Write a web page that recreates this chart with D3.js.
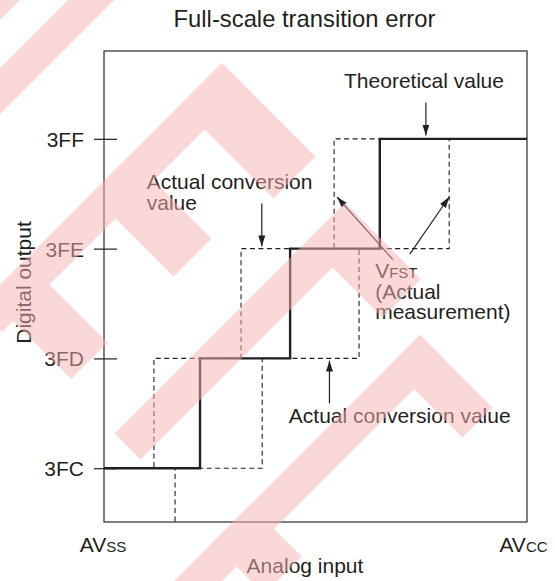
<!DOCTYPE html>
<html>
<head>
<meta charset="utf-8">
<script src="https://cdn.jsdelivr.net/npm/d3@7"></script>
<style>
	body { margin: 0; background: #fff; }
	text { font-family: "Liberation Sans", Arial, Helvetica, sans-serif; fill: #231f20; }
</style>
</head>
<body>
<svg id="chart" width="555" height="581"></svg>
<script>
// digital output codes (0x3FC .. 0x3FF)
var codes = [1020, 1021, 1022, 1023];

// analog input (% of AVss..AVcc) where each step starts, and the code it steps to
var theoX = [0, 22.7, 44.0, 65.2];
var theoCode = [1020, 1021, 1022, 1023];
var earlyX = [0, 11.8, 32.4, 54.4];
var earlyCode = [1020, 1021, 1022, 1023];
var lateX = [0, 16.8, 37.4, 60.3, 81.6];
var lateCode = [1019, 1020, 1021, 1022, 1023];

// annotation arrows, [input %, code]
var arrowFrom = [[76.1, 1023.33], [37.3, 1022.41], [53.3, 1020.59], [68.3, 1021.90], [72.3, 1021.95]];
var arrowTo = [[76.1, 1023.03], [37.3, 1022.02], [53.3, 1020.98], [55.1, 1022.47], [81.6, 1022.47]];

// watermark bars, in (x+y, x-y) screen space: [s0, s1, d0, d1]
var watermark = [
	[-100, 20, -200, 200],
	[68, 114, -200, 200],
	[285, 334, -330, 159],
	[285, 472, 75, 159],
	[285, 450, -103, -27],
	[285, 450, -308, -235],
	[548, 600, -319, 142],
	[548, 700, 65, 142],
	[755, 803, -700, 85],
	[755, 900, 25, 85],
	[755, 858, -330, -255]
];

window.onload = function() {
	var frame = {left: 104, top: 51, right: 527, bottom: 522};

	var svg = d3.select("#chart");

	var x = d3.scaleLinear().domain([0, 100]).range([frame.left, frame.right]);
	var y = d3.scaleLinear().domain([1019.51, 1023.8]).range([frame.bottom, frame.top]);

	// arrow head
	var defs = svg.append("defs");
	defs.append("marker")
		.attr("id", "head")
		.attr("markerUnits", "userSpaceOnUse")
		.attr("markerWidth", 11)
		.attr("markerHeight", 7)
		.attr("refX", 11)
		.attr("refY", 3.5)
		.attr("orient", "auto")
		.append("path")
			.attr("d", "M0,0 L11,3.5 L0,7 z")
			.attr("fill", "#231f20");

	defs.append("clipPath")
		.attr("id", "plot")
		.append("rect")
			.attr("x", frame.left)
			.attr("y", frame.top)
			.attr("width", frame.right - frame.left)
			.attr("height", frame.bottom - frame.top);

	// title
	svg.append("text")
		.attr("x", 304.5)
		.attr("y", 26.7)
		.attr("text-anchor", "middle")
		.style("font-size", "23.8px")
		.text("Full-scale transition error");

	// frame
	svg.append("rect")
		.attr("x", frame.left)
		.attr("y", frame.top)
		.attr("width", frame.right - frame.left)
		.attr("height", frame.bottom - frame.top)
		.attr("fill", "none")
		.attr("stroke", "#3a3a3a")
		.attr("stroke-width", 1.3);

	// y axis ticks crossing the frame
	var axis = svg.append("g")
		.attr("transform", "translate(" + (frame.left + 13) + ",0)")
		.call(d3.axisLeft(y).tickValues(codes).tickFormat(d3.format("X"))
			.tickSizeInner(23).tickSizeOuter(0).tickPadding(10));
	axis.select(".domain").remove();
	axis.selectAll("line").attr("stroke", "#231f20").attr("stroke-width", 1.2);
	axis.selectAll("text")
		.style("font-family", "'Liberation Sans', Arial, sans-serif")
		.style("font-size", "21px")
		.attr("fill", "#231f20")
		.attr("dy", "0.36em");

	// staircases
	function steps(xs, cs) {
		var pts = xs.map(function(d, i) { return [d, cs[i]]; });
		pts.push([100, cs[cs.length - 1]]);
		return pts;
	}
	var line = d3.line()
		.x(function(d) { return x(d[0]); })
		.y(function(d) { return y(d[1]); })
		.curve(d3.curveStepAfter);

	var plot = svg.append("g").attr("clip-path", "url(#plot)");

	plot.selectAll(".actual")
		.data([steps(earlyX, earlyCode), steps(lateX, lateCode)])
		.enter().append("path")
			.attr("class", "actual")
			.attr("d", line)
			.attr("fill", "none")
			.attr("stroke", "#231f20")
			.attr("stroke-width", 1.1)
			.attr("stroke-dasharray", "5,3.5");

	plot.append("path")
		.attr("d", line(steps(theoX, theoCode)))
		.attr("fill", "none")
		.attr("stroke", "#231f20")
		.attr("stroke-width", 2.4);

	// arrows
	svg.selectAll(".arrow")
		.data(arrowFrom)
		.enter().append("line")
			.attr("class", "arrow")
			.attr("x1", function(d) { return x(d[0]); })
			.attr("y1", function(d) { return y(d[1]); })
			.attr("x2", function(d, i) { return x(arrowTo[i][0]); })
			.attr("y2", function(d, i) { return y(arrowTo[i][1]); })
			.attr("stroke", "#231f20")
			.attr("stroke-width", 1.2)
			.attr("marker-end", "url(#head)");

	// labels: one text per label, lines as tspans (each line a list of [text, size])
	function label(px, code, anchor, lines, lead) {
		var t = svg.append("text")
			.attr("x", x(px))
			.attr("y", y(code))
			.attr("text-anchor", anchor)
			.style("font-size", "21px");
		lines.forEach(function(parts, i) {
			parts.forEach(function(p, j) {
				var s = t.append("tspan").style("font-size", p[1] + "px").text(p[0]);
				if (j == 0 && i > 0) s.attr("x", x(px)).attr("dy", lead);
			});
		});
		return t;
	}
	label(75.65, 1023.46, "middle", [[["Theoretical value", 21]]]);
	label(10.1, 1022.54, "start", [[["Actual conversion", 21]], [["value", 21]]], 20.3);
	label(43.7, 1020.41, "start", [[["Actual conversion value", 21]]]);
	label(64.1, 1021.73, "start", [[["V", 21], ["FST", 15]], [["(Actual", 21]], [["measurement)", 21]]], 20.4);

	// axis names
	var avss = svg.append("text").attr("x", 103).attr("y", 551.7).attr("text-anchor", "middle").style("font-size", "21px");
	avss.append("tspan").text("AV");
	avss.append("tspan").style("font-size", "15px").text("SS");
	var avcc = svg.append("text").attr("x", 523.5).attr("y", 551.7).attr("text-anchor", "middle").style("font-size", "21px");
	avcc.append("tspan").text("AV");
	avcc.append("tspan").style("font-size", "15px").text("CC");

	svg.append("text")
		.attr("x", 305)
		.attr("y", 573)
		.attr("text-anchor", "middle")
		.style("font-size", "21px")
		.text("Analog input");

	svg.append("text")
		.attr("transform", "translate(31,282.5) rotate(-90)")
		.attr("text-anchor", "middle")
		.style("font-size", "21px")
		.text("Digital output");

	// watermark over everything
	svg.append("g")
		.attr("opacity", 0.5)
		.selectAll("polygon")
		.data(watermark)
		.enter().append("polygon")
			.attr("fill", "#f9b3b3")
			.attr("points", function(b) {
				return [[b[0], b[2]], [b[1], b[2]], [b[1], b[3]], [b[0], b[3]]]
					.map(function(p) { return [(p[0] + p[1]) / 2, (p[0] - p[1]) / 2].join(","); })
					.join(" ");
			});
}
</script>
</body>
</html>
